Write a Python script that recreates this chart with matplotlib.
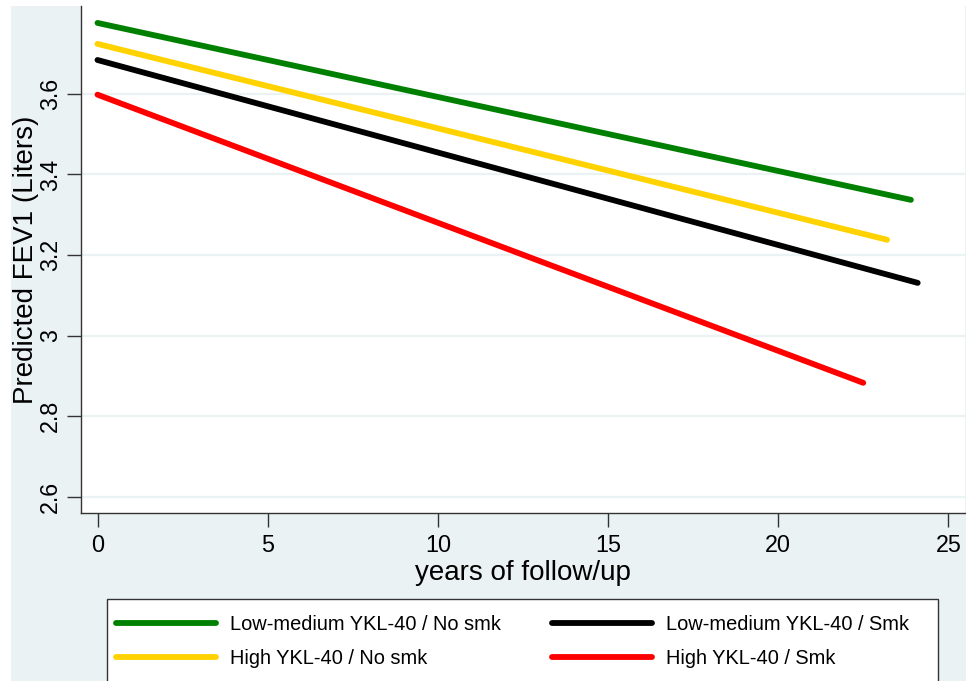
import matplotlib.pyplot as plt
from matplotlib.patches import Rectangle
from matplotlib.lines import Line2D

plt.rcParams['font.family'] = ['Liberation Sans', 'DejaVu Sans']

# predicted FEV1 trajectories (start / end of follow-up)
labels = ['Low-medium YKL-40 / No smk', 'High YKL-40 / No smk',
          'Low-medium YKL-40 / Smk', 'High YKL-40 / Smk']
colors = ['#008000', '#FFD200', '#000000', '#FF0000']
x_start = [0, 0, 0, 0]
x_end = [23.9, 23.2, 24.1, 22.5]
y_start = [3.776, 3.724, 3.684, 3.598]
y_end = [3.337, 3.238, 3.131, 2.883]

xticks = [0, 5, 10, 15, 20, 25]
yticks = [2.6, 2.8, 3.0, 3.2, 3.4, 3.6]
ytick_labels = ['2.6', '2.8', '3', '3.2', '3.4', '3.6']

bg = '#EAF2F3'
W, H = 966, 681

fig = plt.figure(figsize=(W / 100, H / 100), dpi=100, facecolor='white')
fig.patches.append(Rectangle((11 / W, 0), 1, 1 - 6 / H, transform=fig.transFigure,
                             facecolor=bg, edgecolor='none', zorder=-10))

ax = fig.add_axes([81 / W, 1 - 513 / H, (965 - 81) / W, (513 - 6) / H])
ax.set_facecolor('white')

for i in range(len(labels)):
    ax.plot([x_start[i], x_end[i]], [y_start[i], y_end[i]], color=colors[i],
            lw=4.2, solid_capstyle='round', zorder=3)

ax.set_xlim(-0.485, 25.49)
ax.set_ylim(2.56, 3.818)
ax.set_xticks(xticks)
ax.set_yticks(yticks)
ax.set_yticklabels(ytick_labels, rotation=90, va='center')
ax.grid(axis='y', color=bg, lw=1.6, zorder=0)
ax.grid(axis='x', visible=False)

for s in ['top', 'right']:
    ax.spines[s].set_visible(False)
for s in ['left', 'bottom']:
    ax.spines[s].set_color('#333333')
    ax.spines[s].set_linewidth(1.0)
ax.tick_params(axis='both', direction='out', length=10, width=1, color='#333333',
               labelsize=16.8)
ax.tick_params(axis='x', pad=5)
ax.tick_params(axis='y', pad=3.5)

ax.set_xlabel('years of follow/up', fontsize=20, labelpad=2)
ax.set_ylabel('Predicted FEV1 (Liters)', fontsize=20, labelpad=0)

# legend box (runs off the bottom edge, as in the original)
fig.patches.append(Rectangle((107 / W, -0.05), (938 - 107) / W, 1 - 599 / H + 0.05,
                             transform=fig.transFigure, facecolor='white',
                             edgecolor='#333333', lw=1.0, zorder=1))

handles = [Line2D([0], [0], color=c, lw=4.2, solid_capstyle='round') for c in colors]
leg = fig.legend(handles, labels, ncol=2, loc='upper left',
                 bbox_to_anchor=(116 / W, 1 - 615 / H), frameon=False, fontsize=14.4,
                 handlelength=5.0, handletextpad=0.7, borderpad=0, borderaxespad=0,
                 labelspacing=0.75, columnspacing=2.55)
leg.set_zorder(2)

fig.savefig('out.png', dpi=100, facecolor=fig.get_facecolor())
